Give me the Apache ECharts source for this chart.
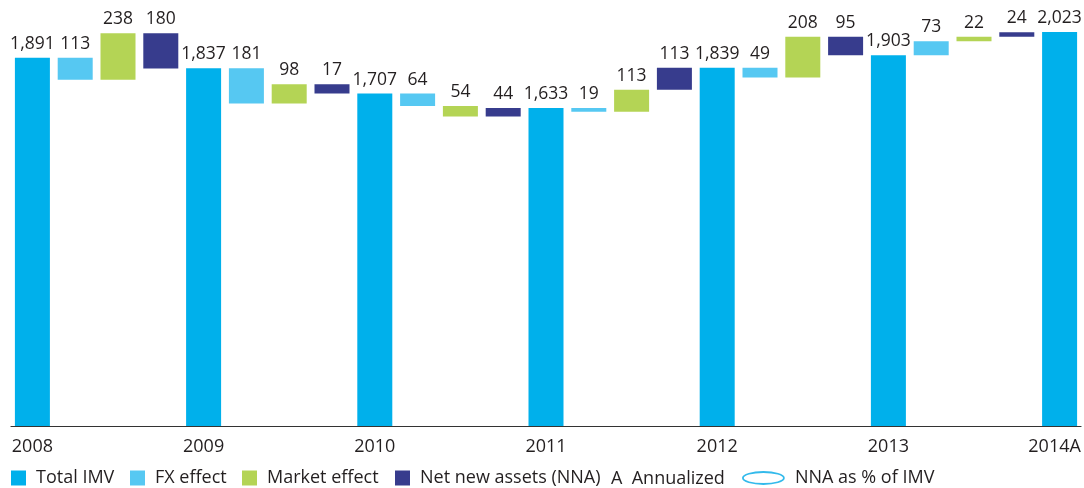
<!DOCTYPE html>
<html><head><meta charset="utf-8">
<script src="https://cdn.jsdelivr.net/npm/echarts@6/dist/echarts.min.js"></script>
<style>html,body{margin:0;padding:0;background:#fff}#c{width:1084px;height:488px}</style>
</head><body><div id="c"></div>
<script>
// ---- data ----
const categories = ['2008','FX 2009','Market 2009','NNA 2009','2009','FX 2010','Market 2010','NNA 2010','2010','FX 2011','Market 2011','NNA 2011','2011','FX 2012','Market 2012','NNA 2012','2012','FX 2013','Market 2013','NNA 2013','2013','FX 2014','Market 2014','NNA 2014','2014A'];
const kinds = ['total','fx','market','nna','total','fx','market','nna','total','fx','market','nna','total','fx','market','nna','total','fx','market','nna','total','fx','market','nna','total'];
// running level (USD bn) reached after each bar, as drawn
const levels = [1891,1778,2016,1836,1837,1656,1755,1707,1707,1643,1589,1633,1633,1614,1727,1840,1839,1790,1998,1903,1903,1976,1998,2022,2023];
// value labels printed above each bar
const valueLabels = ['1,891','113','238','180','1,837','181','98','17','1,707','64','54','44','1,633','19','113','113','1,839','49','208','95','1,903','73','22','24','2,023'];
const seriesNames = {total:'Total IMV', fx:'FX effect', market:'Market effect', nna:'Net new assets (NNA)'};
const colors = {total:'#00b0eb', fx:'#56c8f2', market:'#b4d455', nna:'#373c8d'};

const FONT = 'Open Sans';
const TXT = '#231f20';

// ---- build waterfall ----
const baseData = [], visible = {total:[], fx:[], market:[], nna:[]};
let prev = 0;
categories.forEach((c, i) => {
  const k = kinds[i];
  const from = k === 'total' ? 0 : prev;
  const to = levels[i];
  baseData.push(k === 'total' ? 0 : Math.min(from, to));
  Object.keys(visible).forEach(key => visible[key].push(key === k ? Math.abs(to - from) : '-'));
  prev = to;
});

const barSeries = Object.keys(visible).map(k => ({
  name: seriesNames[k], type: 'bar', stack: 'w', barWidth: 35,
  itemStyle: {color: colors[k]},
  label: {show: true, position: 'top', distance: 5, formatter: p => valueLabels[p.dataIndex],
          fontFamily: FONT, fontSize: 17.5, lineHeight: 18, color: TXT},
  data: visible[k]
}));

const lastIdx = categories.length - 1;
function legendFor(name, left, extra) {
  return Object.assign({
    left: left, top: 469, padding: 0, orient: 'horizontal', selectedMode: false,
    itemWidth: 15, itemHeight: 15, icon: 'rect',
    textStyle: {fontFamily: FONT, fontSize: 18, color: TXT, lineHeight: 15, padding: [0,0,0,5]},
    data: [name]
  }, extra || {});
}

const option = {
  animation: false,
  grid: {left: 11, right: 3, top: 17, bottom: 62, containLabel: false, outerBoundsMode: 'none'},
  xAxis: {
    type: 'category', data: categories,
    axisLine: {lineStyle: {color: '#333', width: 1.2}},
    axisTick: {show: false},
    axisLabel: {
      interval: (idx) => kinds[idx] === 'total',
      formatter: (v, i) => i === lastIdx ? '{e|' + v + '}' : v,
      fontFamily: FONT, fontSize: 18, color: TXT, margin: 12, lineHeight: 18,
      rich: {e: {fontFamily: FONT, fontSize: 18, color: TXT, lineHeight: 18, padding: [0, 10, 0, 0]}}
    }
  },
  yAxis: {type: 'value', min: 0, max: 2100, show: false, splitLine: {show: false}},
  legend: [
    legendFor('Total IMV', 11),
    legendFor('FX effect', 130),
    legendFor('Market effect', 242),
    legendFor('Net new assets (NNA)', 395),
    legendFor('NNA as % of IMV', 742, {
      itemWidth: 41, itemHeight: 12,
      textStyle: {fontFamily: FONT, fontSize: 18, color: TXT, lineHeight: 15, padding: [0,0,0,6]},
      data: [{name: 'NNA as % of IMV',
              icon: 'path://M0,6A20.5,6,0,1,1,41,6A20.5,6,0,1,1,0,6Z',
              itemStyle: {color: 'transparent', borderColor: '#00a9e6', borderWidth: 1.8}}]
    })
  ],
  graphic: [{
    type: 'text', left: 611, top: 470,
    style: {text: 'A  Annualized', fontFamily: FONT, fontSize: 18, fill: TXT}
  }],
  series: [
    {name: 'base', type: 'bar', stack: 'w', barWidth: 35, silent: true,
     itemStyle: {color: 'transparent'}, data: baseData},
    ...barSeries,
    {name: 'NNA as % of IMV', type: 'scatter', data: [], itemStyle: {color: '#00a9e6'}}
  ]
};
const chart = echarts.init(document.getElementById('c'), null, {renderer: 'canvas'});
chart.setOption(option);
</script></body></html>
